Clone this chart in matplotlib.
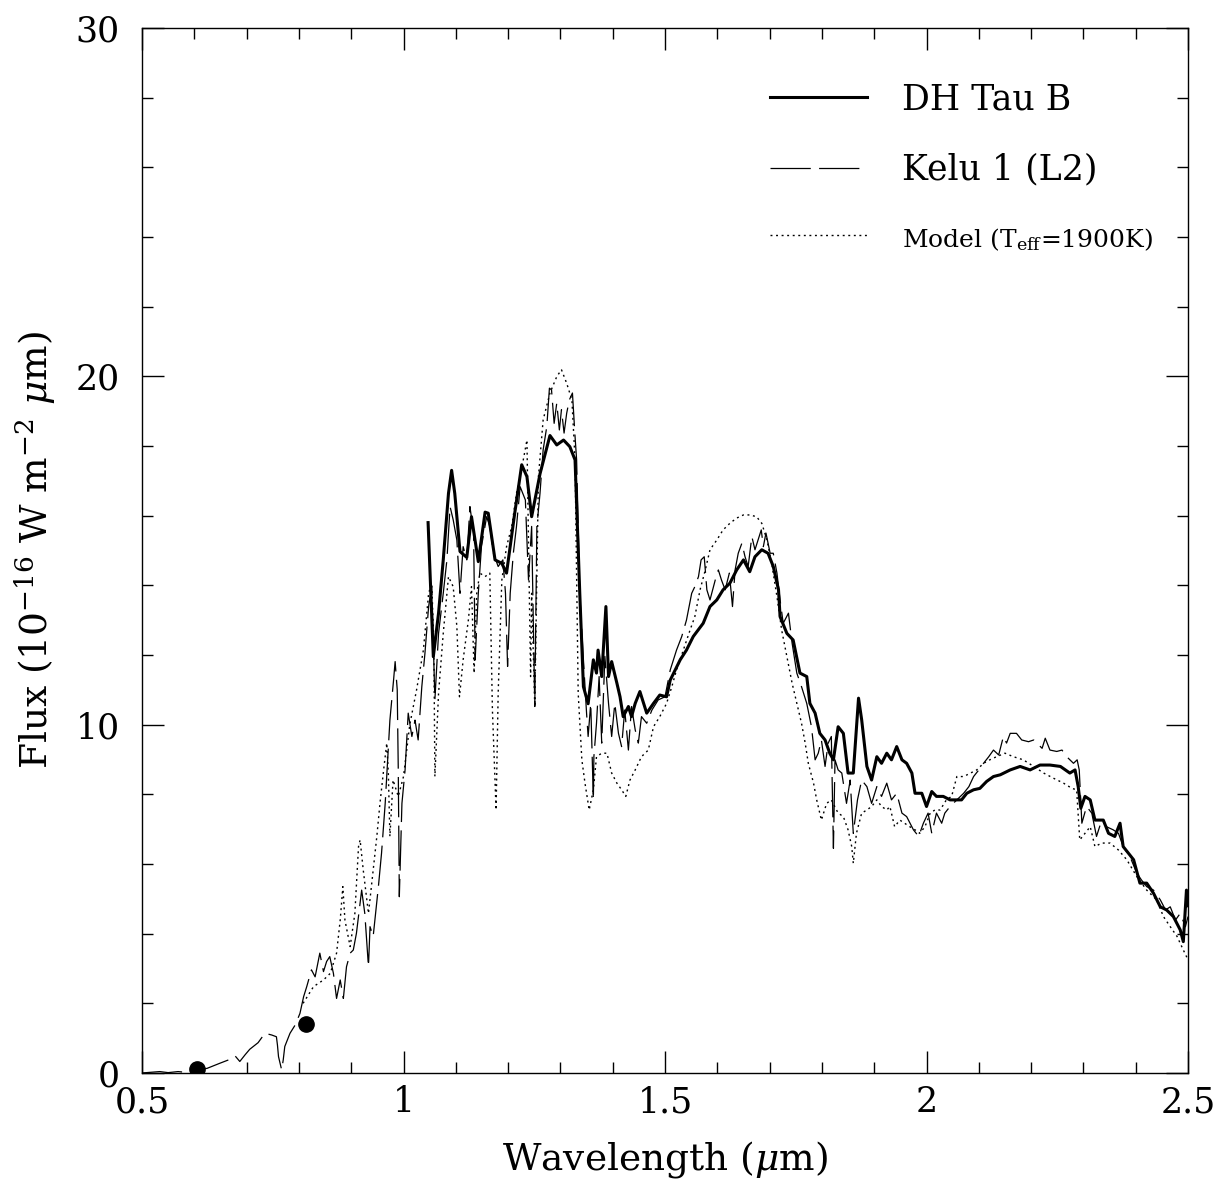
import matplotlib
matplotlib.use("Agg")
import matplotlib.pyplot as plt
from matplotlib.ticker import MultipleLocator

plt.rcParams["font.family"] = ["DejaVu Serif"]
plt.rcParams["mathtext.fontset"] = "dejavuserif"
plt.rcParams["lines.scale_dashes"] = False

# --- DH Tau B (thick solid) --------------------------------------------------
dh_wave = [
    1.047, 1.057, 1.067, 1.076, 1.086, 1.092, 1.098, 1.108, 1.121, 1.130,
    1.143, 1.156, 1.162, 1.175, 1.188, 1.197, 1.212, 1.226, 1.236, 1.245,
    1.261, 1.280, 1.293, 1.306, 1.318, 1.328, 1.337, 1.344, 1.353, 1.363,
    1.369, 1.372, 1.379, 1.387, 1.392, 1.398, 1.408, 1.414, 1.420, 1.430,
    1.436, 1.443, 1.452, 1.465, 1.478, 1.490, 1.503, 1.510, 1.529, 1.541,
    1.554, 1.573, 1.586, 1.599, 1.611, 1.624, 1.637, 1.650, 1.662, 1.672,
    1.685, 1.697, 1.707, 1.717, 1.720, 1.733, 1.745, 1.758, 1.771, 1.777,
    1.787, 1.796, 1.806, 1.815, 1.822, 1.831, 1.841, 1.850, 1.860, 1.870,
    1.876, 1.886, 1.895, 1.905, 1.914, 1.924, 1.933, 1.943, 1.953, 1.962,
    1.972, 1.978, 1.991, 2.000, 2.010, 2.019, 2.032, 2.045, 2.058, 2.067,
    2.077, 2.090, 2.102, 2.115, 2.128, 2.141, 2.160, 2.179, 2.198, 2.217,
    2.236, 2.256, 2.274, 2.284, 2.290, 2.295, 2.303, 2.313, 2.322, 2.338,
    2.348, 2.360, 2.370, 2.376, 2.396, 2.408, 2.421, 2.434, 2.447, 2.459,
    2.472, 2.485, 2.491, 2.497, 2.500,
]
dh_flux = [
    15.80, 11.95, 13.20, 14.73, 16.64, 17.30, 16.64, 14.97, 14.80, 15.97,
    14.68, 16.10, 16.07, 14.73, 14.63, 14.35, 16.00, 17.46, 17.12, 15.97,
    17.20, 18.30, 18.03, 18.17, 17.98, 17.60, 13.78, 11.09, 10.60, 11.86,
    11.48, 12.14, 11.38, 13.39, 11.38, 11.81, 11.19, 10.80, 10.23, 10.52,
    10.23, 10.61, 10.95, 10.33, 10.61, 10.85, 10.80, 11.28, 11.86, 12.14,
    12.53, 12.91, 13.39, 13.58, 13.87, 14.06, 14.44, 14.73, 14.39, 14.82,
    15.02, 14.92, 14.54, 13.87, 13.10, 12.62, 12.43, 11.48, 11.38, 10.61,
    10.33, 9.75, 9.56, 9.18, 8.99, 9.94, 9.75, 8.61, 8.61, 10.76,
    10.14, 8.80, 8.41, 9.08, 8.89, 9.18, 8.99, 9.37, 8.99, 8.89,
    8.61, 8.03, 8.03, 7.65, 8.08, 7.94, 7.94, 7.84, 7.84, 7.84,
    8.03, 8.13, 8.17, 8.37, 8.51, 8.56, 8.70, 8.80, 8.70, 8.84,
    8.84, 8.80, 8.61, 8.70, 8.22, 7.60, 7.94, 7.84, 7.26, 7.26,
    6.88, 6.79, 7.17, 6.50, 6.12, 5.45, 5.45, 5.16, 4.77, 4.68,
    4.49, 4.11, 3.77, 5.25, 4.80,
]

# --- Kelu 1 (L2) (thin, long dashes) -----------------------------------------
kelu_wave = [
    0.500, 0.534, 0.550, 0.569, 0.589, 0.605, 0.624, 0.649, 0.668, 0.678,
    0.687, 0.697, 0.706, 0.722, 0.735, 0.748, 0.757, 0.759, 0.761, 0.767,
    0.770, 0.773, 0.783, 0.793, 0.802, 0.809, 0.815, 0.824, 0.831, 0.840,
    0.847, 0.853, 0.859, 0.866, 0.872, 0.879, 0.885, 0.891, 0.898, 0.904,
    0.910, 0.920, 0.926, 0.933, 0.936, 0.942, 0.952, 0.958, 0.965, 0.974,
    0.981, 0.984, 0.988, 0.990, 0.992, 0.997, 1.003, 1.009, 1.016, 1.022,
    1.028, 1.035, 1.041, 1.048, 1.054, 1.060, 1.067, 1.076, 1.083, 1.089,
    1.095, 1.102, 1.108, 1.114, 1.121, 1.127, 1.134, 1.137, 1.143, 1.149,
    1.159, 1.165, 1.172, 1.181, 1.190, 1.195, 1.199, 1.204, 1.210, 1.216,
    1.223, 1.233, 1.239, 1.245, 1.251, 1.255, 1.261, 1.267, 1.274, 1.279,
    1.283, 1.288, 1.293, 1.298, 1.302, 1.307, 1.312, 1.317, 1.323, 1.328,
    1.331, 1.337, 1.344, 1.350, 1.353, 1.358, 1.363, 1.364, 1.369, 1.374,
    1.379, 1.385, 1.392, 1.398, 1.404, 1.411, 1.417, 1.423, 1.430, 1.436,
    1.443, 1.449, 1.455, 1.465, 1.475, 1.487, 1.500, 1.510, 1.522, 1.532,
    1.541, 1.551, 1.557, 1.564, 1.569, 1.575, 1.580, 1.586, 1.596, 1.602,
    1.608, 1.615, 1.623, 1.629, 1.634, 1.640, 1.647, 1.653, 1.659, 1.666,
    1.672, 1.678, 1.684, 1.688, 1.693, 1.701, 1.707, 1.714, 1.720, 1.726,
    1.736, 1.743, 1.752, 1.761, 1.771, 1.780, 1.787, 1.793, 1.799, 1.806,
    1.812, 1.818, 1.822, 1.825, 1.831, 1.838, 1.847, 1.854, 1.860, 1.868,
    1.876, 1.886, 1.895, 1.905, 1.914, 1.924, 1.933, 1.943, 1.953, 1.962,
    1.975, 1.985, 1.994, 2.003, 2.010, 2.019, 2.029, 2.035, 2.045, 2.058,
    2.071, 2.081, 2.090, 2.100, 2.109, 2.119, 2.128, 2.138, 2.147, 2.153,
    2.160, 2.172, 2.182, 2.195, 2.205, 2.221, 2.227, 2.236, 2.249, 2.259,
    2.268, 2.281, 2.288, 2.292, 2.297, 2.306, 2.316, 2.325, 2.335, 2.344,
    2.357, 2.367, 2.376, 2.389, 2.402, 2.411, 2.421, 2.434, 2.447, 2.457,
    2.466, 2.476, 2.485, 2.495, 2.500,
]
kelu_flux = [
    0.00, 0.04, 0.01, 0.04, 0.01, 0.11, 0.13, 0.28, 0.39, 0.49,
    0.33, 0.52, 0.68, 0.87, 1.14, 1.09, 1.04, 0.80, 0.47, 0.09,
    0.37, 0.76, 1.14, 1.38, 1.71, 2.19, 2.48, 2.96, 2.76, 3.44,
    2.91, 3.20, 3.34, 2.86, 2.14, 2.67, 2.14, 3.05, 3.44, 3.53,
    4.01, 5.25, 4.58, 3.05, 4.20, 3.92, 5.35, 6.31, 7.74, 10.13,
    11.28, 11.81, 11.00, 8.70, 5.06, 7.74, 8.70, 10.33, 9.66, 10.13,
    9.56, 11.09, 12.05, 13.39, 13.96, 10.71, 12.62, 13.77, 14.73, 16.26,
    15.88, 15.30, 13.77, 15.11, 14.73, 16.26, 15.50, 11.86, 13.77, 15.11,
    15.97, 15.69, 14.92, 14.54, 14.73, 13.77, 11.67, 13.77, 14.92, 15.69,
    16.83, 16.45, 14.15, 15.69, 10.52, 15.69, 16.64, 17.89, 18.56, 19.66,
    19.61, 18.65, 19.23, 18.46, 19.04, 18.37, 18.94, 19.32, 19.52, 18.27,
    17.60, 13.77, 11.86, 10.33, 9.66, 10.61, 7.84, 9.08, 10.04, 11.38,
    9.47, 11.96, 10.61, 9.66, 10.61, 9.75, 9.37, 10.42, 9.27, 10.52,
    9.85, 9.47, 10.23, 10.04, 10.42, 10.71, 10.80, 11.57, 12.14, 12.53,
    13.00, 13.77, 13.96, 14.25, 14.73, 14.82, 13.87, 13.58, 14.15, 14.44,
    14.15, 13.87, 14.35, 13.39, 14.44, 14.92, 15.21, 14.82, 14.54, 15.40,
    15.02, 15.30, 15.59, 15.11, 15.50, 14.92, 14.92, 14.35, 13.58, 12.91,
    13.20, 12.34, 11.48, 11.09, 10.61, 9.94, 8.99, 9.18, 9.56, 8.80,
    9.47, 9.66, 6.45, 8.99, 8.70, 8.61, 7.74, 8.41, 6.88, 7.84,
    8.41, 8.22, 7.74, 8.22, 7.94, 8.32, 7.84, 8.03, 7.46, 7.36,
    6.98, 6.79, 7.17, 7.46, 6.88, 7.46, 7.17, 7.46, 7.65, 7.84,
    8.03, 8.22, 8.51, 8.70, 8.89, 9.08, 9.27, 9.13, 9.66, 9.47,
    9.75, 9.75, 9.56, 9.51, 9.56, 9.32, 9.61, 9.27, 9.23, 9.27,
    9.08, 8.89, 8.99, 8.70, 7.17, 7.65, 7.46, 6.79, 7.26, 7.07,
    6.98, 6.88, 6.50, 6.21, 5.74, 5.54, 5.35, 5.25, 4.97, 4.68,
    4.77, 4.39, 4.58, 4.20, 4.49,
]

# --- Model (Teff = 1900 K) (dotted) -------------------------------------------
model_wave = [
    0.808, 0.828, 0.847, 0.860, 0.872, 0.879, 0.884, 0.888, 0.898, 0.907,
    0.914, 0.917, 0.923, 0.933, 0.942, 0.949, 0.955, 0.962, 0.968, 0.971,
    0.974, 0.980, 0.990, 1.000, 1.012, 1.025, 1.038, 1.048, 1.054, 1.058,
    1.060, 1.067, 1.076, 1.086, 1.095, 1.102, 1.107, 1.114, 1.124, 1.130,
    1.135, 1.140, 1.146, 1.156, 1.165, 1.170, 1.177, 1.181, 1.188, 1.197,
    1.207, 1.216, 1.229, 1.236, 1.243, 1.245, 1.251, 1.258, 1.267, 1.280,
    1.293, 1.302, 1.312, 1.322, 1.328, 1.334, 1.341, 1.347, 1.355, 1.363,
    1.369, 1.379, 1.389, 1.398, 1.408, 1.417, 1.425, 1.433, 1.443, 1.455,
    1.468, 1.478, 1.490, 1.503, 1.513, 1.522, 1.535, 1.548, 1.557, 1.567,
    1.577, 1.586, 1.599, 1.611, 1.624, 1.637, 1.650, 1.662, 1.675, 1.685,
    1.695, 1.704, 1.714, 1.723, 1.733, 1.743, 1.752, 1.761, 1.768, 1.774,
    1.784, 1.790, 1.799, 1.809, 1.818, 1.831, 1.841, 1.850, 1.857, 1.860,
    1.866, 1.876, 1.886, 1.895, 1.905, 1.914, 1.924, 1.930, 1.939, 1.949,
    1.958, 1.968, 1.978, 1.987, 1.997, 2.007, 2.016, 2.026, 2.038, 2.048,
    2.058, 2.071, 2.084, 2.096, 2.109, 2.121, 2.134, 2.150, 2.166, 2.185,
    2.205, 2.224, 2.243, 2.262, 2.278, 2.287, 2.293, 2.303, 2.313, 2.322,
    2.335, 2.351, 2.367, 2.383, 2.402, 2.421, 2.440, 2.453, 2.466, 2.479,
    2.491, 2.500,
]
model_flux = [
    2.00, 2.48, 2.67, 2.86, 3.44, 4.39, 5.35, 4.39, 3.63, 4.58,
    6.50, 6.69, 5.83, 4.58, 5.83, 6.79, 7.74, 8.70, 9.47, 8.61,
    6.79, 8.41, 7.94, 8.51, 10.00, 11.00, 12.14, 13.77, 14.06, 12.34,
    8.51, 10.90, 12.62, 14.25, 13.96, 12.82, 10.80, 11.86, 13.00, 13.96,
    11.48, 13.77, 14.35, 14.25, 14.35, 10.42, 7.55, 10.90, 14.15, 15.11,
    15.69, 16.64, 17.60, 18.17, 11.38, 13.77, 10.52, 17.12, 18.75, 19.52,
    19.99, 20.19, 19.80, 19.32, 17.60, 10.90, 8.99, 8.32, 7.55, 8.13,
    9.08, 9.18, 9.18, 8.61, 8.32, 8.13, 7.94, 8.41, 8.70, 9.08,
    9.27, 9.94, 10.23, 10.61, 11.09, 11.57, 12.14, 12.72, 13.10, 13.87,
    14.44, 15.02, 15.30, 15.59, 15.78, 15.93, 16.02, 16.02, 15.97, 15.78,
    15.30, 14.63, 13.68, 12.72, 11.96, 11.19, 10.61, 10.04, 9.47, 8.89,
    8.32, 7.84, 7.26, 7.74, 7.84, 7.46, 7.36, 6.98, 6.50, 6.02,
    6.88, 7.46, 7.55, 7.65, 7.84, 7.65, 7.55, 7.65, 7.07, 7.26,
    7.17, 7.07, 6.98, 6.88, 7.07, 7.46, 7.55, 7.55, 7.84, 7.94,
    8.51, 8.51, 8.61, 8.70, 8.89, 8.99, 9.08, 9.18, 9.08, 8.99,
    8.80, 8.61, 8.46, 8.32, 8.17, 8.13, 6.69, 6.88, 7.07, 6.50,
    6.60, 6.60, 6.40, 6.12, 5.64, 5.25, 4.97, 4.49, 4.20, 3.92,
    3.53, 3.25,
]

# --- optical photometry points -------------------------------------------------
phot_wave = [0.606, 0.814]
phot_flux = [0.12, 1.41]

fig = plt.figure(figsize=(12.22, 11.8), dpi=100)
ax = fig.add_axes([0.1162, 0.0907, 0.856, 0.8856])

ax.plot(model_wave, model_flux, color="black", lw=1.0, dashes=(1.4, 2.6),
        label=r"Model (T$_{\rm eff}$=1900K)", zorder=2)
ax.plot(kelu_wave, kelu_flux, color="black", lw=0.9, dashes=(29, 6),
        label="Kelu 1 (L2)", zorder=3)
ax.plot(dh_wave, dh_flux, color="black", lw=2.2, label="DH Tau B", zorder=4)
ax.plot(phot_wave, phot_flux, "o", color="black", ms=11, zorder=5)

ax.set_xlim(0.5, 2.5)
ax.set_ylim(0, 30)
ax.xaxis.set_major_locator(MultipleLocator(0.5))
ax.xaxis.set_minor_locator(MultipleLocator(0.1))
ax.yaxis.set_major_locator(MultipleLocator(10))
ax.yaxis.set_minor_locator(MultipleLocator(2))
ax.xaxis.set_major_formatter(plt.FuncFormatter(lambda v, p: f"{v:g}"))
ax.tick_params(which="both", direction="in", top=True, right=True, width=1.0)
ax.tick_params(which="major", length=16)
ax.tick_params(which="minor", length=8)
ax.tick_params(axis="x", labelsize=25, pad=9)
ax.tick_params(axis="y", labelsize=25, pad=16)
for sp in ax.spines.values():
    sp.set_linewidth(1.0)

ax.set_xlabel(r"Wavelength ($\mu$m)", fontsize=27, va="center")
ax.xaxis.set_label_coords(0.5, -0.083)
ax.set_ylabel(r"Flux (10$^{-16}$ W m$^{-2}$ $\mu$m)", fontsize=27, va="center")
ax.yaxis.set_label_coords(-0.102, 0.5)

# legend: solid, long-dash, dotted, top right
handles, labels = ax.get_legend_handles_labels()
order = [2, 1, 0]
leg = ax.legend([handles[i] for i in order], [labels[i] for i in order],
                loc="upper left", bbox_to_anchor=(0.600, 0.948), frameon=False,
                fontsize=25, handlelength=2.8, handletextpad=1.0,
                labelspacing=1.05, borderpad=0, borderaxespad=0)
leg.get_texts()[2].set_fontsize(18)

fig.savefig("out.png", dpi=100)
